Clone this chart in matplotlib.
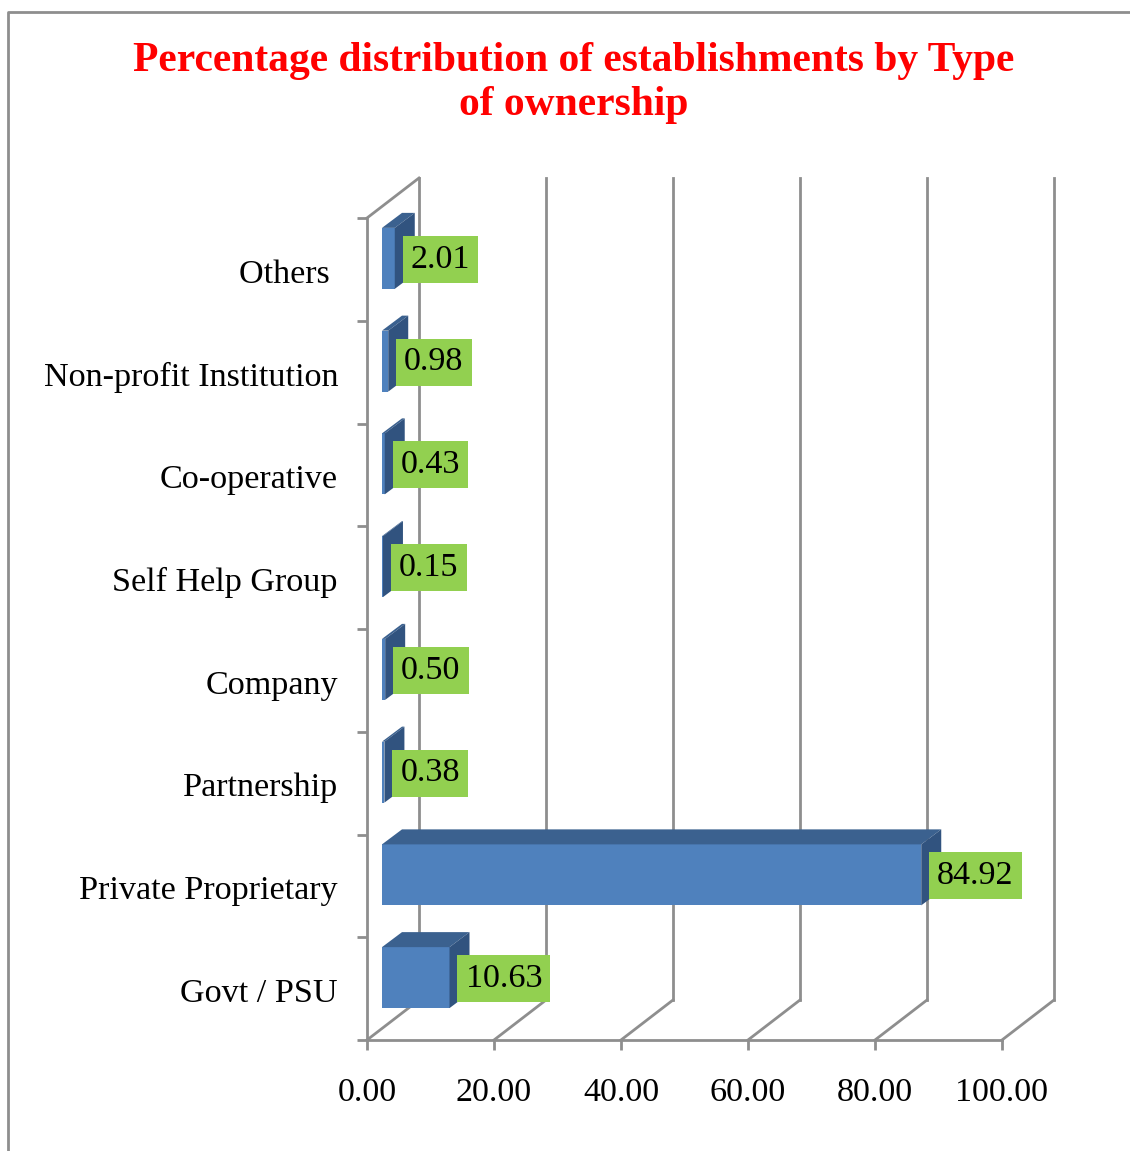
import matplotlib
matplotlib.use("Agg")
import matplotlib.pyplot as plt
from matplotlib.patches import Polygon
from matplotlib.lines import Line2D

categories = ["Govt / PSU", "Private Proprietary", "Partnership", "Company",
              "Self Help Group", "Co-operative", "Non-profit Institution", "Others "]
values = [10.63, 84.92, 0.38, 0.50, 0.15, 0.43, 0.98, 2.01]
value_labels = ["10.63", "84.92", "0.38", "0.50", "0.15", "0.43", "0.98", "2.01"]
xticks = [0, 20, 40, 60, 80, 100]
title = "Percentage distribution of establishments by Type\nof ownership"

W, H = 1130, 1151
FONT = "Liberation Serif"
GRAY = "#8E8E8E"
LW = 2.0
FS = 24.6
fig = plt.figure(figsize=(W / 100, H / 100), dpi=100, facecolor="white")
L, R, T, B = 367, 1002, 218, 1040
ax = fig.add_axes([L / W, 1 - B / H, (R - L) / W, (B - T) / H])
ax.set_xlim(0, 100)
ax.set_ylim(0, 8)
px = 100 / (R - L)
py = 8 / (B - T)

# wall / floor
wx, wy = 52 * px, 40 * py
for t in xticks:
    ax.plot([t + wx, t + wx], [wy, 8 + wy], color=GRAY, lw=LW, clip_on=False, zorder=1)
    ax.plot([t, t + wx], [0, wy], color=GRAY, lw=LW, clip_on=False, zorder=1)
ax.plot([0, wx], [8, 8 + wy], color=GRAY, lw=LW, clip_on=False, zorder=1)

# 3-D bars
x0 = 15 * px
dx, dy = 20 * px, 15 * py
h = 61 * py
ys = [i + 0.5 + 11 * py for i in range(len(values))]
ax.barh(ys, values, height=h, left=x0, color="#4F81BD", zorder=3, linewidth=0)
for y, v, lab in zip(ys, values, value_labels):
    top = y + h / 2
    bot = y - h / 2
    xe = x0 + v
    ax.add_patch(Polygon([(x0, top), (xe, top), (xe + dx, top + dy), (x0 + dx, top + dy)],
                         facecolor="#3B618F", edgecolor="none", zorder=3, clip_on=False))
    ax.add_patch(Polygon([(xe, bot), (xe + dx, bot + dy), (xe + dx, top + dy), (xe, top)],
                         facecolor="#31537F", edgecolor="none", zorder=3, clip_on=False))
    ax.annotate(lab, (xe, y), xytext=(16, -1), textcoords="offset pixels", ha="left", va="center",
                family=FONT, fontsize=FS, color="black", zorder=5,
                bbox=dict(boxstyle="square,pad=0.24", facecolor="#92D050", edgecolor="none"))

for s in ("top", "right"):
    ax.spines[s].set_visible(False)
for s in ("left", "bottom"):
    ax.spines[s].set_color(GRAY)
    ax.spines[s].set_linewidth(LW)
ax.set_xticks(xticks)
ax.set_xticklabels([f"{t:.2f}" for t in xticks], family=FONT, fontsize=FS)
ax.set_yticks(range(9))
ax.set_yticklabels([""] * 9)
ax.tick_params(axis="both", color=GRAY, width=LW, length=7)
ax.tick_params(axis="x", pad=20)
for i, c in enumerate(categories):
    ax.annotate(c, (0, i + 0.5), xytext=(-29, -5), textcoords="offset pixels", ha="right", va="center",
                family=FONT, fontsize=FS, color="black", annotation_clip=False)

fig.text(574 / W, 1 - 83 / H, title, ha="center", va="center", color="#FF0000",
         family=FONT, fontsize=29.9, fontweight="bold", linespacing=1.2)

fig.add_artist(Line2D([8 / W, 8 / W, 1], [0, 1 - 12 / H, 1 - 12 / H], color=GRAY, lw=LW))
fig.savefig("out.png", dpi=100, facecolor="white")
